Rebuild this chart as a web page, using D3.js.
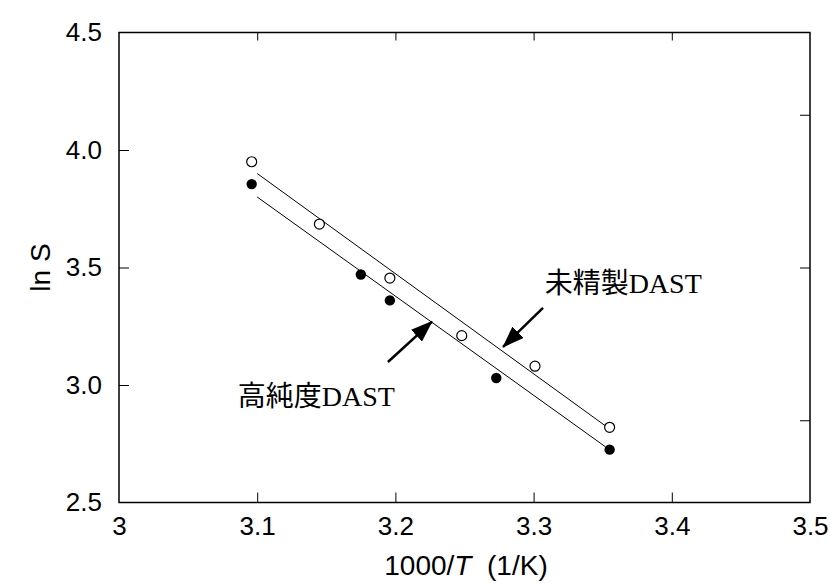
<!DOCTYPE html>
<html>
<head>
<meta charset="utf-8">
<script src="https://cdn.jsdelivr.net/npm/d3@7"></script>
<style>
  body { margin: 0; background: #fff; }
  .tick text { font-family: "Liberation Sans", Arial, sans-serif; }
</style>
</head>
<body>
<div id="chart"></div>
<script>
// data
var xUnrefined = [3.096, 3.145, 3.196, 3.248, 3.301, 3.355];
var yUnrefined = [3.95, 3.685, 3.455, 3.21, 3.08, 2.82];
var xPure = [3.096, 3.175, 3.196, 3.273, 3.355];
var yPure = [3.855, 3.47, 3.36, 3.03, 2.725];

// fitted lines (end points)
var fitX = [3.1, 3.352];
var fitUnrefined = [3.90, 2.826];
var fitPure = [3.80, 2.737];

var xTicks = [3, 3.1, 3.2, 3.3, 3.4, 3.5];
var yTicks = [2.5, 3.0, 3.5, 4.0, 4.5];
var rightTicks = [4.15, 3.5, 2.85];

var labelUnrefined = "未精製DAST";
var labelPure = "高純度DAST";

// set the dimensions and margins of the graph
var width = 830, height = 586;
var margin = {top: 32.5, right: 20, bottom: 83.5, left: 119};

var x = d3.scaleLinear().domain([3, 3.5]).range([margin.left, width - margin.right]);
var y = d3.scaleLinear().domain([2.5, 4.5]).range([height - margin.bottom, margin.top]);

var svg = d3.select("#chart")
  .append("svg")
    .attr("width", width)
    .attr("height", height);

// arrow head
svg.append("defs").append("marker")
    .attr("id", "head")
    .attr("viewBox", "0 0 22 16")
    .attr("refX", 21)
    .attr("refY", 8)
    .attr("markerWidth", 22)
    .attr("markerHeight", 16)
    .attr("markerUnits", "userSpaceOnUse")
    .attr("orient", "auto")
  .append("path")
    .attr("d", "M0,0 L22,8 L0,16 Z")
    .attr("fill", "#000");

// frame
svg.append("rect")
    .attr("x", x(3))
    .attr("y", y(4.5))
    .attr("width", x(3.5) - x(3))
    .attr("height", y(2.5) - y(4.5))
    .attr("fill", "none")
    .attr("stroke", "#000")
    .attr("stroke-width", 1.5);

var fontTick = "26px";

// bottom axis
var xAxis = svg.append("g")
    .attr("transform", "translate(0," + y(2.5) + ")")
    .call(d3.axisBottom(x)
      .tickValues(xTicks)
      .tickSize(-10)
      .tickPadding(14)
      .tickFormat(function(d) { return d === 3 ? "3" : d3.format(".1f")(d); }));
xAxis.select(".domain").remove();
xAxis.selectAll(".tick line").filter(function(d) { return d === 3 || d === 3.5; }).remove();
xAxis.selectAll("text").attr("font-size", fontTick).attr("fill", "#000");

// top ticks
var xTop = svg.append("g")
    .attr("transform", "translate(0," + y(4.5) + ")")
    .call(d3.axisTop(x)
      .tickValues(xTicks.slice(1, -1))
      .tickSize(-8)
      .tickFormat(""));
xTop.select(".domain").remove();

// left axis
var yAxis = svg.append("g")
    .attr("transform", "translate(" + x(3) + ",0)")
    .call(d3.axisLeft(y)
      .tickValues(yTicks)
      .tickSize(-10)
      .tickPadding(17)
      .tickFormat(d3.format(".1f")));
yAxis.select(".domain").remove();
yAxis.selectAll(".tick line").filter(function(d) { return d === 2.5 || d === 4.5; }).remove();
yAxis.selectAll("text").attr("font-size", fontTick).attr("fill", "#000");

// right ticks
var yRight = svg.append("g")
    .attr("transform", "translate(" + x(3.5) + ",0)")
    .call(d3.axisRight(y)
      .tickValues(rightTicks)
      .tickSize(-10)
      .tickFormat(""));
yRight.select(".domain").remove();

// fitted lines
var line = d3.line()
    .x(function(d) { return x(d[0]); })
    .y(function(d) { return y(d[1]); });

[fitUnrefined, fitPure].forEach(function(fy) {
  svg.append("path")
      .datum(fitX.map(function(v, i) { return [v, fy[i]]; }))
      .attr("fill", "none")
      .attr("stroke", "#000")
      .attr("stroke-width", 1)
      .attr("d", line);
});

// points
svg.selectAll("circle.open")
    .data(xUnrefined.map(function(v, i) { return [v, yUnrefined[i]]; }))
  .enter().append("circle")
    .attr("class", "open")
    .attr("cx", function(d) { return x(d[0]); })
    .attr("cy", function(d) { return y(d[1]); })
    .attr("r", 5)
    .attr("fill", "#fff")
    .attr("stroke", "#000")
    .attr("stroke-width", 1.2);

svg.selectAll("circle.fill")
    .data(xPure.map(function(v, i) { return [v, yPure[i]]; }))
  .enter().append("circle")
    .attr("class", "fill")
    .attr("cx", function(d) { return x(d[0]); })
    .attr("cy", function(d) { return y(d[1]); })
    .attr("r", 5.2)
    .attr("fill", "#000");

// annotations
var arrows = [
  {from: [3.3068, 3.328], to: [3.2779, 3.162]},
  {from: [3.1946, 3.098], to: [3.2265, 3.270]}
];
svg.selectAll("line.arrow")
    .data(arrows)
  .enter().append("line")
    .attr("class", "arrow")
    .attr("x1", function(d) { return x(d.from[0]); })
    .attr("y1", function(d) { return y(d.from[1]); })
    .attr("x2", function(d) { return x(d.to[0]); })
    .attr("y2", function(d) { return y(d.to[1]); })
    .attr("stroke", "#000")
    .attr("stroke-width", 2.5)
    .attr("marker-end", "url(#head)");

var jpFont = "'Liberation Serif', 'Noto Sans CJK JP', serif";
svg.append("text")
    .attr("x", x(3.308))
    .attr("y", y(3.392))
    .attr("font-family", jpFont)
    .attr("font-size", "28px")
    .text(labelUnrefined);

svg.append("text")
    .attr("x", x(3.086))
    .attr("y", y(2.912))
    .attr("font-family", jpFont)
    .attr("font-size", "28px")
    .text(labelPure);

// axis titles
var xt = svg.append("text")
    .attr("x", 466)
    .attr("y", 575)
    .attr("text-anchor", "middle")
    .attr("font-family", "'Liberation Sans', Arial, sans-serif")
    .attr("font-size", "28px");
xt.append("tspan").text("1000/");
xt.append("tspan").attr("font-style", "italic").text("T");
xt.append("tspan").attr("xml:space", "preserve").text("\u00a0\u00a0(1/K)");

svg.append("text")
    .attr("transform", "translate(50," + y(3.5) + ")rotate(-90)")
    .attr("text-anchor", "middle")
    .attr("font-family", "'Liberation Sans', Arial, sans-serif")
    .attr("font-size", "28px")
    .text("ln S");
</script>
</body>
</html>
